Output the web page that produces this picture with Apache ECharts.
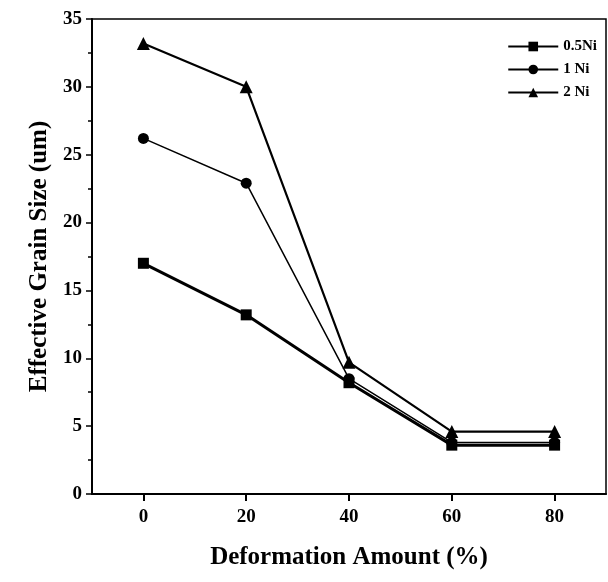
<!DOCTYPE html>
<html>
<head>
<meta charset="utf-8">
<script src="https://cdn.jsdelivr.net/npm/echarts@6/dist/echarts.min.js"></script>
<style>html,body{margin:0;padding:0;background:#fff}#c{width:608px;height:582px}</style>
</head>
<body>
<div id="c"></div>
<script>
const deformation = [0, 20, 40, 60, 80];
const ni05 = [17.0, 13.2, 8.2, 3.6, 3.6];
const ni1 = [26.2, 22.9, 8.5, 3.8, 3.8];
const ni2 = [33.2, 30.0, 9.7, 4.6, 4.6];
const xTicks = [0, 20, 40, 60, 80];
const seriesNames = ['0.5Ni', '1 Ni', '2 Ni'];

const font = 'Liberation Serif';
const chart = echarts.init(document.getElementById('c'));
function pts(vals){ return deformation.map((d,i)=>[d, vals[i]]); }
chart.setOption({
  animation: false,
  backgroundColor: '#fff',
  grid: { left: 92, right: 2, top: 19, bottom: 88, show: true, borderColor: '#000', borderWidth: 1.5, containLabel: false },
  legend: {
    orient: 'vertical', right: 6, top: 34, itemWidth: 50, itemHeight: 12, itemGap: 8,
    data: seriesNames,
    textStyle: { fontFamily: font, fontWeight: 'bold', fontSize: 15, color: '#000' }
  },
  xAxis: {
    type: 'value', min: -10, max: 90,
    name: 'Deformation Amount (%)', nameLocation: 'middle', nameGap: 51,
    nameTextStyle: { fontFamily: font, fontWeight: 'bold', fontSize: 25, color: '#000' },
    axisLine: { onZero: false, lineStyle: { color: '#000', width: 2 } },
    axisTick: { customValues: xTicks, length: 7, lineStyle: { color: '#000', width: 2 } },
    axisLabel: { customValues: xTicks, fontFamily: font, fontWeight: 'bold', fontSize: 19, color: '#000', margin: 14 },
    splitLine: { show: false }
  },
  yAxis: {
    type: 'value', min: 0, max: 35, interval: 5,
    name: 'Effective Grain Size (um)', nameLocation: 'middle', nameGap: 36,
    nameTextStyle: { fontFamily: font, fontWeight: 'bold', fontSize: 25, color: '#000' },
    axisLine: { show: true, onZero: false, lineStyle: { color: '#000', width: 2 } },
    axisTick: { show: true, length: 6, lineStyle: { color: '#000', width: 1.5 } },
    minorTick: { show: true, splitNumber: 2, length: 4, lineStyle: { color: '#000', width: 1.5 } },
    axisLabel: { fontFamily: font, fontWeight: 'bold', fontSize: 19, color: '#000', margin: 10 },
    splitLine: { show: false }
  },
  series: [
    { name: seriesNames[0], type: 'line', data: pts(ni05), symbol: 'rect', symbolSize: 11,
      lineStyle: { color: '#000', width: 3 }, itemStyle: { color: '#000' } },
    { name: seriesNames[1], type: 'line', data: pts(ni1), symbol: 'circle', symbolSize: 11,
      lineStyle: { color: '#000', width: 1.5 }, itemStyle: { color: '#000' } },
    { name: seriesNames[2], type: 'line', data: pts(ni2), symbol: 'triangle', symbolSize: 13,
      lineStyle: { color: '#000', width: 2.2 }, itemStyle: { color: '#000' } }
  ]
});
</script>
</body>
</html>
